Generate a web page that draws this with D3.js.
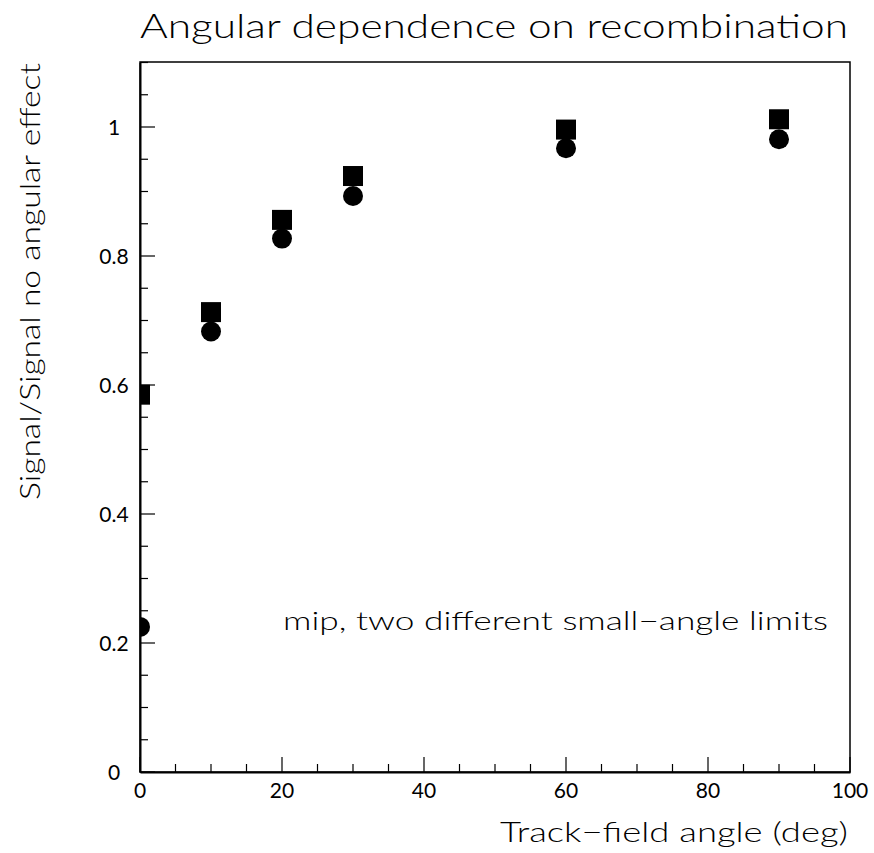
<!DOCTYPE html>
<html>
<head>
<meta charset="utf-8">
<script src="https://cdn.jsdelivr.net/npm/d3@7"></script>
<style>
  body { margin: 0; background: #fff; }
  svg { display: block; }
  text { font-family: Lato, "DejaVu Sans", sans-serif; fill: #000; font-weight: 300; }
  text.xl, text.yl { font-weight: 400; }
</style>
</head>
<body>
<svg id="chart" width="874" height="853"></svg>
<script>
const angles = [0, 10, 20, 30, 60, 90];
const squareValues = [0.585, 0.713, 0.856, 0.924, 0.996, 1.012];
const circleValues = [0.225, 0.683, 0.827, 0.893, 0.967, 0.981];
const xTickLabels = [0, 20, 40, 60, 80, 100];
const yTickLabels = [0, 0.2, 0.4, 0.6, 0.8, 1];

const title = "Angular dependence on recombination";
const xTitle = "Track\u2212field angle (deg)";
const yTitle = "Signal/Signal no angular effect";
const note = "mip, two different small\u2212angle limits";

const svg = d3.select("#chart");
const L = 140, R = 850, T = 62, B = 772;
const x = d3.scaleLinear().domain([0, 100]).range([L, R]);
const y = d3.scaleLinear().domain([0, 1.1]).range([B, B - 645 * 1.1]);

svg.append("defs").append("clipPath").attr("id", "clip")
  .append("rect").attr("x", L).attr("y", T).attr("width", R - L).attr("height", B - T);

svg.append("rect").attr("x", L).attr("y", T).attr("width", R - L).attr("height", B - T)
  .attr("fill", "none").attr("stroke", "#000").attr("stroke-width", 1.5);

// y axis
const yMinor = d3.range(0, 1.1001, 0.05);
const yAxis = d3.axisLeft(y).tickValues(yMinor).tickSize(0).tickFormat("");
const gy = svg.append("g");
yMinor.forEach(v => {
  const major = Math.abs(Math.round(v / 0.2) * 0.2 - v) < 1e-6;
  gy.append("line").attr("x1", L).attr("x2", L + (major ? 15 : 8))
    .attr("y1", y(v)).attr("y2", y(v)).attr("stroke", "#000").attr("stroke-width", 1.2);
});
svg.append("g").attr("transform", `translate(${L},0)`).call(yAxis)
  .call(g => g.select(".domain").attr("stroke-width", 2));
gy.selectAll("text.yl").data(yTickLabels).enter().append("text")
  .attr("class", "yl").attr("x", 114).attr("y", d => y(d) + 7.5)
  .attr("text-anchor", "middle").attr("font-size", 21)
  .text(d => d3.format("~g")(d));

// x axis
const xMinor = d3.range(0, 100.001, 5);
const xAxis = d3.axisBottom(x).tickValues(xMinor).tickSize(0).tickFormat("");
svg.append("g").attr("transform", `translate(0,${B})`).call(xAxis)
  .call(g => g.select(".domain").attr("stroke-width", 2));
const gx = svg.append("g");
xMinor.forEach(v => {
  const major = v % 20 === 0;
  gx.append("line").attr("x1", x(v)).attr("x2", x(v))
    .attr("y1", B).attr("y2", B - (major ? 15 : 8)).attr("stroke", "#000").attr("stroke-width", 1.2);
});
gx.selectAll("text.xl").data(xTickLabels).enter().append("text")
  .attr("class", "xl").attr("x", d => x(d)).attr("y", 798)
  .attr("text-anchor", "middle").attr("font-size", 21)
  .text(d => d);

// markers
const plot = svg.append("g").attr("clip-path", "url(#clip)");
const sq = angles.map((a, i) => ({a, v: squareValues[i]}));
const ci = angles.map((a, i) => ({a, v: circleValues[i]}));
plot.selectAll("rect.sq").data(sq).enter().append("rect")
  .attr("class", "sq")
  .attr("x", d => x(d.a) - 10).attr("y", d => y(d.v) - 10)
  .attr("width", 20).attr("height", 20).attr("fill", "#000");
plot.selectAll("circle.ci").data(ci).enter().append("circle")
  .attr("class", "ci")
  .attr("cx", d => x(d.a)).attr("cy", d => y(d.v)).attr("r", 10).attr("fill", "#000");

// texts
svg.append("text").attr("x", 140).attr("y", 38).attr("font-size", 34)
  .attr("textLength", 708).attr("lengthAdjust", "spacingAndGlyphs").text(title);
svg.append("text").attr("x", 848).attr("y", 842).attr("text-anchor", "end").attr("font-size", 27)
  .attr("textLength", 348).attr("lengthAdjust", "spacingAndGlyphs").text(xTitle);
svg.append("text").attr("transform", "translate(40,500) rotate(-90)").attr("font-size", 28)
  .attr("textLength", 437).attr("lengthAdjust", "spacingAndGlyphs").text(yTitle);
svg.append("text").attr("x", 283).attr("y", 630).attr("font-size", 25)
  .attr("textLength", 545).attr("lengthAdjust", "spacingAndGlyphs").text(note);
</script>
</body>
</html>
